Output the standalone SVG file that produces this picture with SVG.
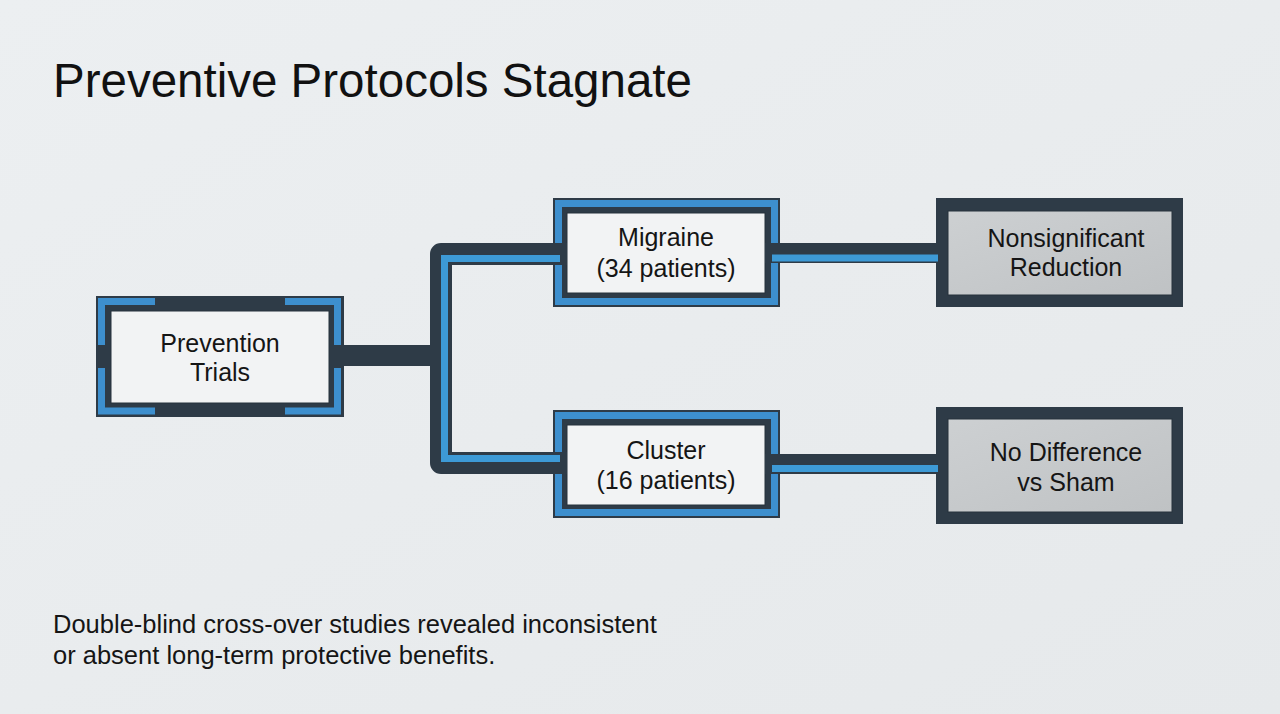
<svg xmlns="http://www.w3.org/2000/svg" width="1280" height="714" viewBox="0 0 1280 714">
  <defs>
    <linearGradient id="bg" x1="0" y1="0" x2="1" y2="1">
      <stop offset="0" stop-color="#eceff1"/>
      <stop offset="1" stop-color="#e6e9eb"/>
    </linearGradient>
    <linearGradient id="grayfill" x1="0" y1="0" x2="1" y2="1">
      <stop offset="0" stop-color="#cdd0d2"/>
      <stop offset="1" stop-color="#bfc2c4"/>
    </linearGradient>
  </defs>
  <style>
    .dark { fill: #2e3b47; }
    .blueband { fill: none; stroke: #3d8fce; stroke-width: 7; }
    .white { fill: #f2f3f4; stroke: #26323c; stroke-width: 1; }
    .gray { fill: url(#grayfill); stroke: #26323c; stroke-width: 1; }
    .accent { fill: none; stroke: #3d8fce; stroke-width: 7; stroke-linecap: butt; }
    .lbl { font-family: "Liberation Sans", Arial, sans-serif; font-size: 25px; fill: #151515; text-anchor: middle; }
    .title { font-family: "Liberation Sans", Arial, sans-serif; font-size: 47.5px; fill: #111; }
    .note { font-family: "Liberation Sans", Arial, sans-serif; font-size: 25.5px; fill: #151515; }
    .cdark { fill: none; stroke: #2e3b47; stroke-linejoin: round; }
    .cblue { fill: none; stroke: #3d9ad6; stroke-width: 7; }
  </style>
  <rect width="1280" height="714" fill="url(#bg)"/>

  <text class="title" x="53" y="97">Preventive Protocols Stagnate</text>

  <g id="prevention">
    <rect class="dark" x="96" y="296" width="248" height="121"/>
    <path class="accent" d="M101.5 345 V301.5 H155 M285 301.5 H337.5 V345 M101.5 368 V411 H155 M285 411 H337.5 V368"/>
    <rect class="white" x="111" y="311" width="218" height="92"/>
    <text class="lbl" x="220" y="352">Prevention</text>
    <text class="lbl" x="220" y="381">Trials</text>
  </g>

  <g id="migraine">
    <rect class="dark" x="553" y="198" width="227" height="109"/>
    <rect class="blueband" x="558.5" y="203.5" width="216" height="98"/>
    <rect class="white" x="567" y="213" width="198" height="80"/>
    <text class="lbl" x="666" y="246">Migraine</text>
    <text class="lbl" x="666" y="277">(34 patients)</text>
  </g>

  <g id="cluster">
    <rect class="dark" x="553" y="410" width="227" height="108"/>
    <rect class="blueband" x="558.5" y="415.5" width="216" height="97"/>
    <rect class="white" x="567" y="425" width="198" height="80"/>
    <text class="lbl" x="666" y="459">Cluster</text>
    <text class="lbl" x="666" y="489">(16 patients)</text>
  </g>

  <g id="nonsignificant">
    <rect class="dark" x="936" y="198" width="247" height="109"/>
    <rect class="gray" x="948" y="211" width="224" height="84"/>
    <text class="lbl" x="1066" y="247">Nonsignificant</text>
    <text class="lbl" x="1066" y="276">Reduction</text>
  </g>

  <g id="nodifference">
    <rect class="dark" x="936" y="407" width="247" height="117"/>
    <rect class="gray" x="948" y="419" width="224" height="93"/>
    <text class="lbl" x="1066" y="461">No Difference</text>
    <text class="lbl" x="1066" y="491">vs Sham</text>
  </g>

  <g id="connectors">
    <path class="cdark" stroke-width="21" d="M344 355.5 H441"/>
    <path class="cdark" stroke-width="22" d="M567 254 H441 V463 H567"/>
    <path class="cblue" d="M560 258.5 H444.5 V458.5 H560"/>
    <path class="cdark" stroke-width="20" d="M765 253 H940"/>
    <path class="cblue" d="M772 258 H938"/>
    <path class="cdark" stroke-width="20" d="M765 464 H940"/>
    <path class="cblue" d="M772 468.5 H938"/>
  </g>

  <text class="note" x="53" y="633">Double-blind cross-over studies revealed inconsistent</text>
  <text class="note" x="53" y="664">or absent long-term protective benefits.</text>
</svg>
